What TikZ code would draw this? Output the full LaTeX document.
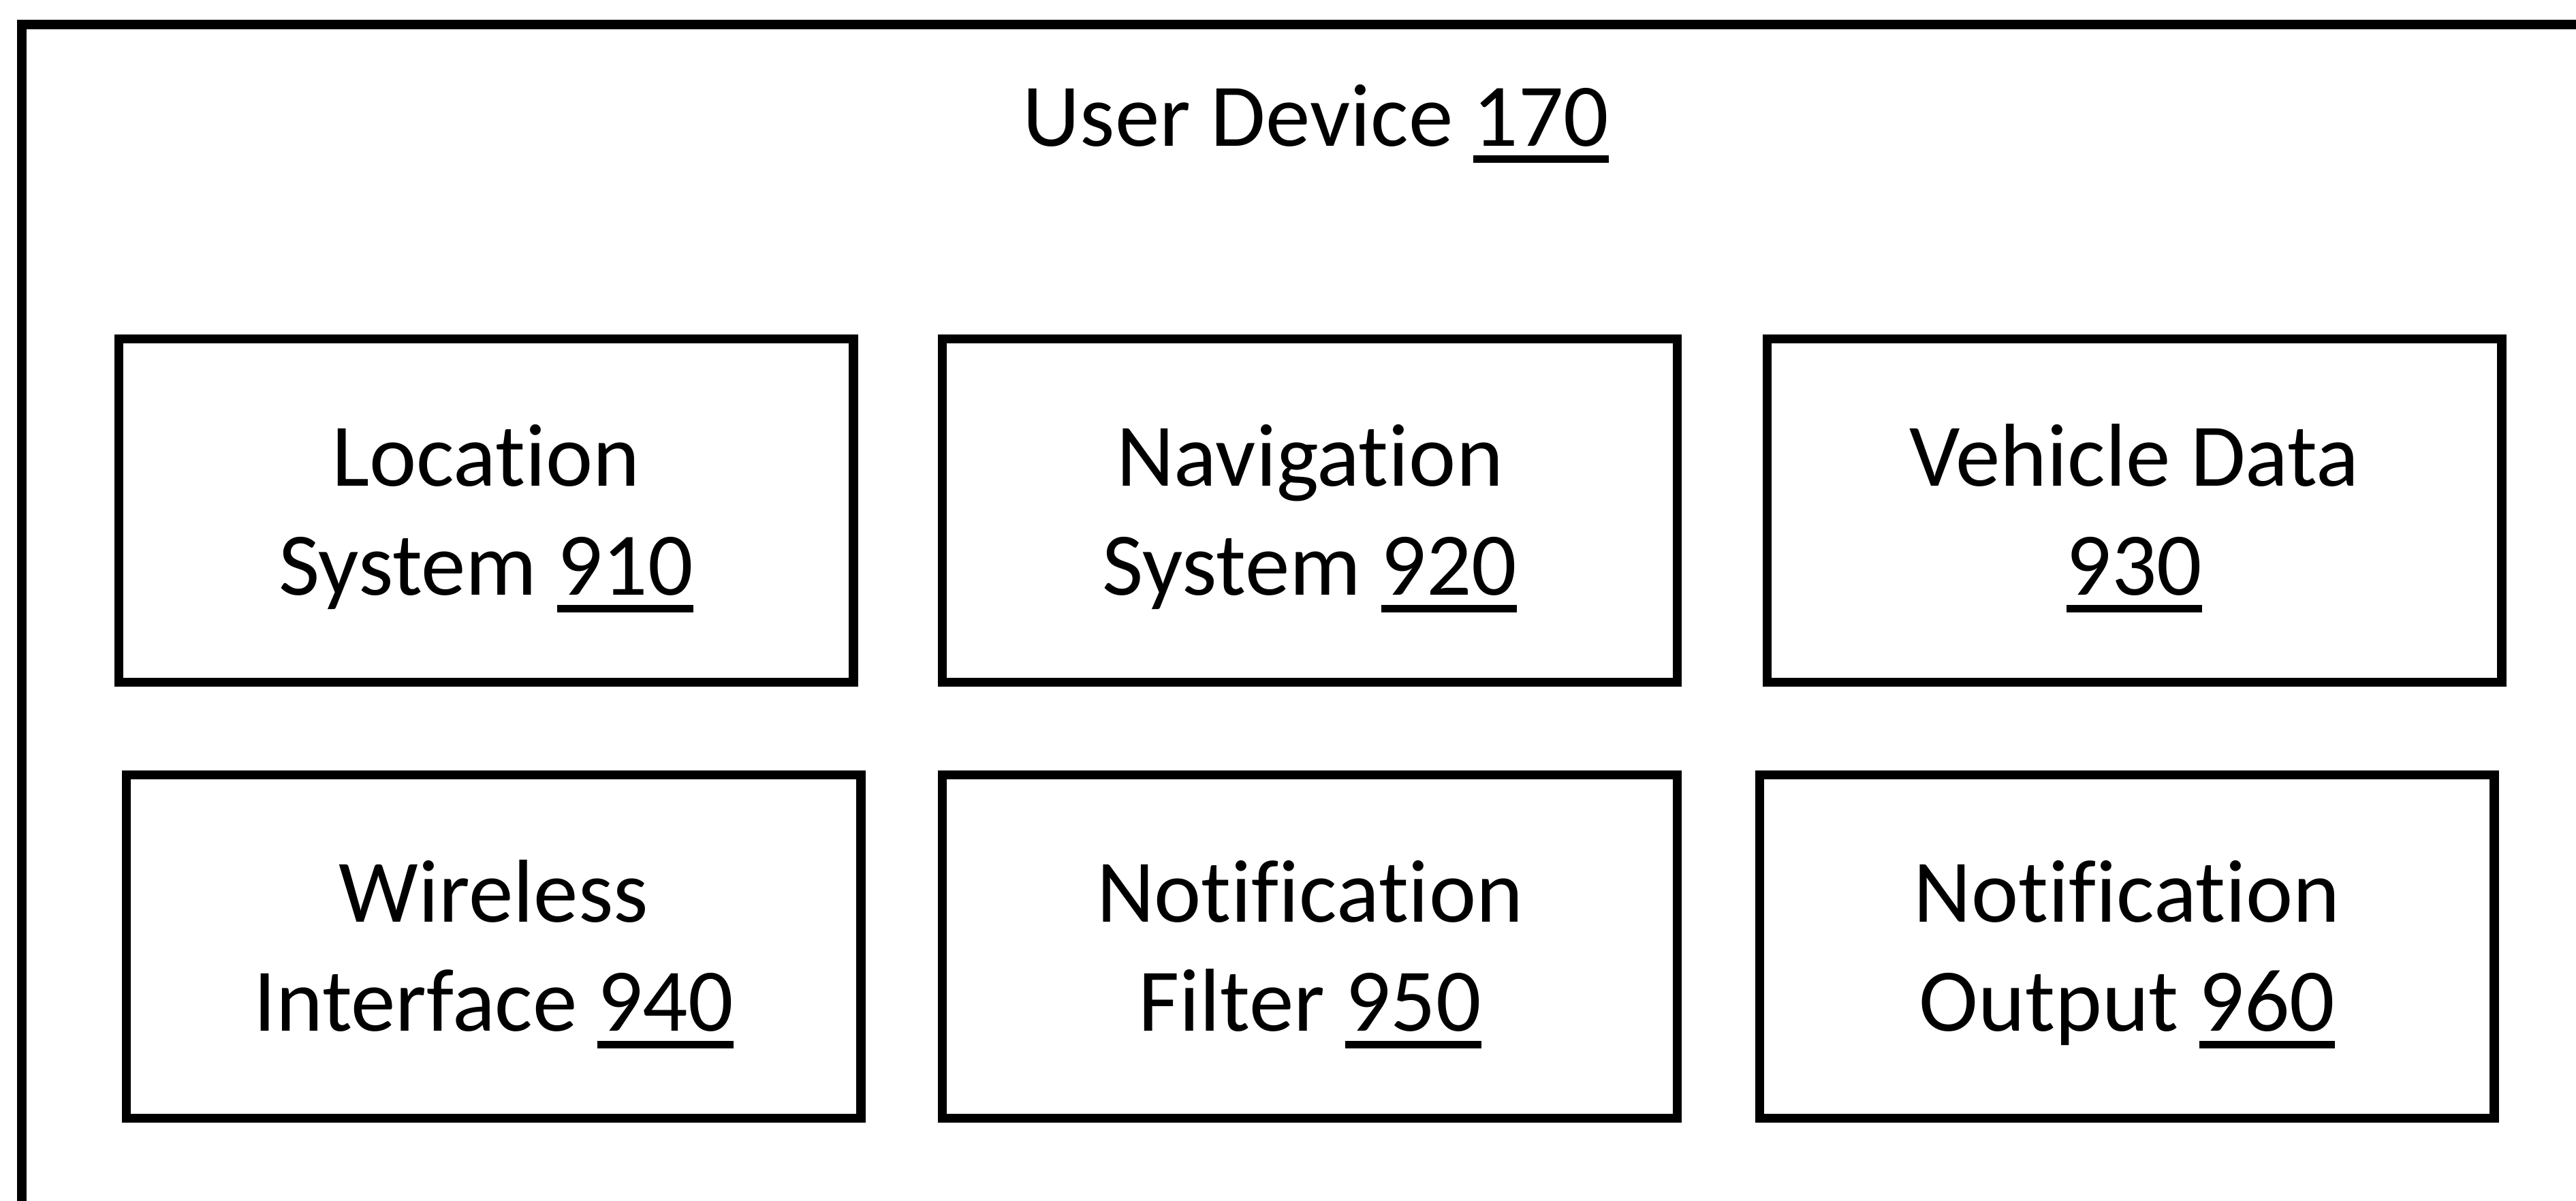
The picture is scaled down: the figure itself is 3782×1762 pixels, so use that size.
\documentclass[tikz,border=0pt]{standalone}
\usepackage{fontspec}
\setmainfont{Carlito}[Ligatures=NoCommon]
\newlength\ulw
\newcommand\ulnum[1]{\settowidth\ulw{#1}\rlap{\rule[-7.1pt]{\ulw}{3.1pt}}#1}
\tikzset{
  partbox/.style={draw, line width=3.8pt, minimum width=10.78cm, minimum height=5.036cm,
    inner sep=0pt, align=center, text height=81.9pt, text depth=11.3pt,
    font=\fontsize{37.3}{45.5}\selectfont},
  framebox/.style={draw, line width=3.85pt},
  titletext/.style={anchor=base, inner sep=0pt, font=\fontsize{37.3}{45.5}\selectfont}
}
\begin{document}
\begin{tikzpicture}[x=0.01cm, y=-0.01cm]
  \useasboundingbox (0,0) rectangle (3782,1762);
  \clip (0,0) rectangle (3782,1762);
  \draw[framebox] (32,36) rectangle (3900,1900);
  \node[titletext] (title) at (1932,214) {User Device \ulnum{170}};
  \node[partbox] (n910) at (713.5,749.6) {Location\\System \ulnum{910}};
  \node[partbox] (n920) at (1923.1,749.6) {Navigation\\System \ulnum{920}};
  \node[partbox] (n930) at (3133.6,749.6) {Vehicle Data\\\ulnum{930}};
  \node[partbox] (n940) at (724.5,1389.5) {Wireless\\Interface \ulnum{940}};
  \node[partbox] (n950) at (1923.1,1389.5) {Notification\\Filter \ulnum{950}};
  \node[partbox] (n960) at (3122.8,1389.5) {Notification\\Output \ulnum{960}};
\end{tikzpicture}
\end{document}
